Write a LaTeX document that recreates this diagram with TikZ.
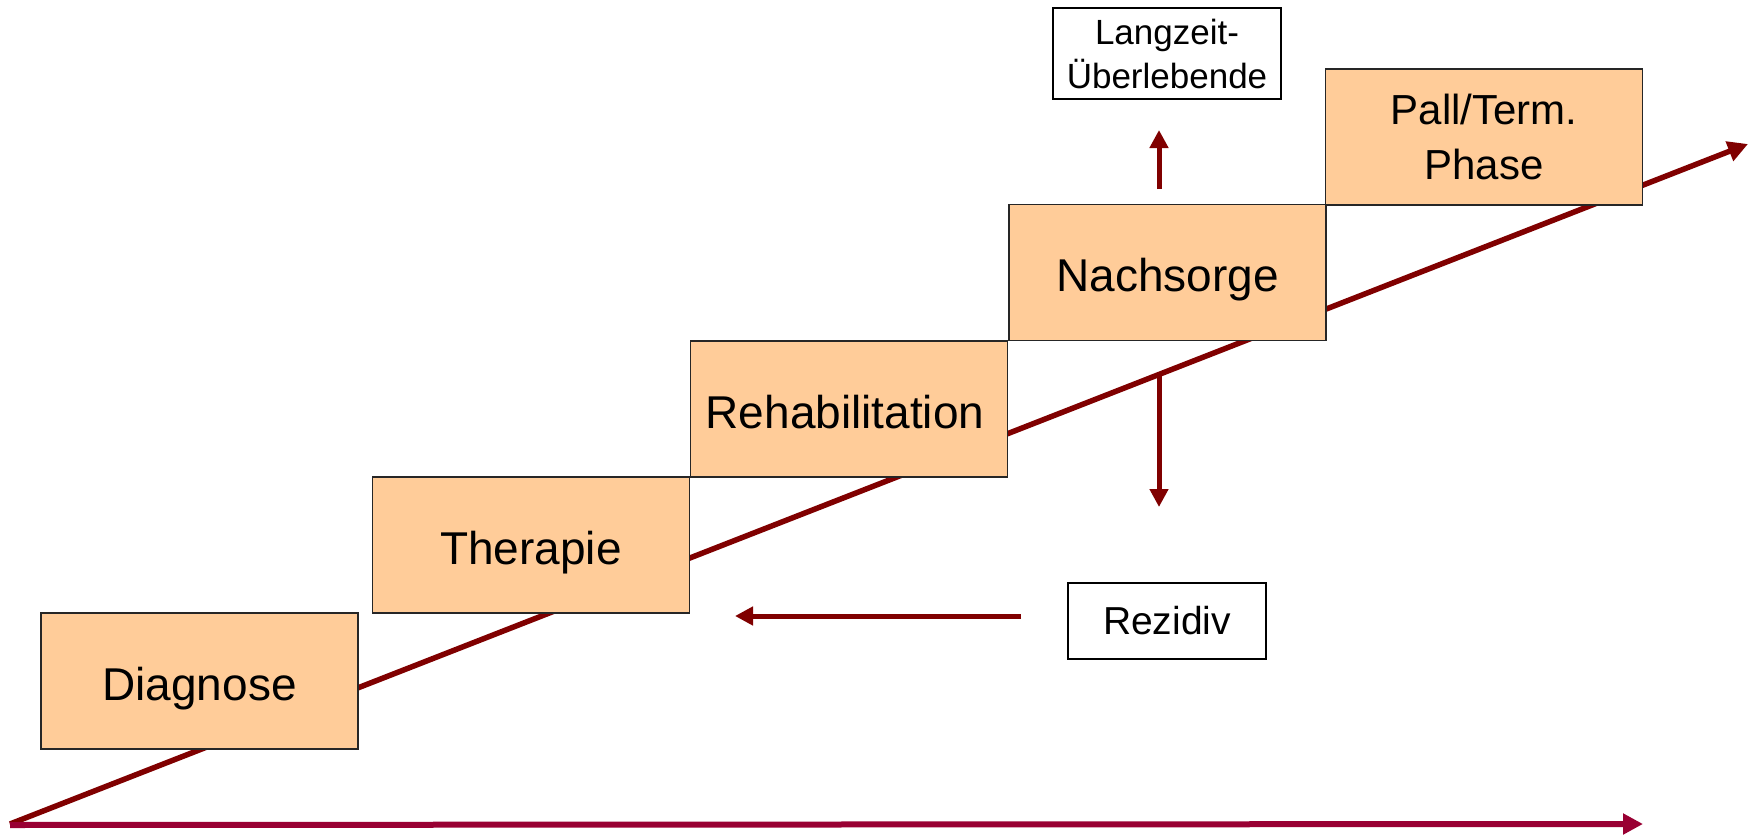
\documentclass[tikz,border=0pt]{standalone}
\usepackage{fontspec}
\setmainfont{Liberation Sans}
\usetikzlibrary{arrows.meta}
\definecolor{boxfill}{HTML}{FFCC99}
\definecolor{darkred}{HTML}{800000}
\definecolor{wine}{HTML}{990033}
\tikzset{
  phase/.style={draw=black!85, line width=1.5pt, fill=boxfill, minimum width=317pt, minimum height=136pt, inner sep=0pt, align=center, font=\fontsize{46}{52}\selectfont, text height=38pt, text depth=0pt},
  label box/.style={draw=black, line width=1.5pt, fill=white, inner sep=0pt, align=center},
  flow/.style={draw=darkred, line width=5.5pt, -{Triangle[length=20pt,width=20pt]}},
  axis/.style={draw=wine, line width=6pt, -{Triangle[length=20pt,width=20pt]}},
  branch/.style={draw=darkred, line width=5pt, -{Triangle[length=18pt,width=18pt]}}
}
\begin{document}
\begin{tikzpicture}[x=1pt,y=-1pt]
\useasboundingbox (0,0) rectangle (1754,835);
\coordinate (o) at (10,824);
\coordinate (diagend) at (1748,144);
\coordinate (axstart) at (10,825);
\coordinate (axend) at (1643,824);
\draw[flow] (o) -- (diagend);
\draw[axis] (axstart) -- (axend);

\node[phase] (diag) at (199.5,681) {Diagnose};
\node[phase] (ther) at (531,545) {Therapie};
\node[phase] (reha) at (849,409) {\hspace*{-8pt}Rehabilitation};
\node[phase] (nach) at (1167.5,272.5) {Nachsorge};
\node[phase, font=\fontsize{42}{55}\selectfont, text height=, text depth=] (pall) at (1484,137) {Pall/Term.\\Phase};

\node[label box, minimum width=228pt, minimum height=91pt, font=\fontsize{35}{44}\selectfont] (lang) at (1167,53.5) {Langzeit-\\Überlebende};
\node[label box, minimum width=198pt, minimum height=76pt, font=\fontsize{39}{44}\selectfont] (rez) at (1167,621) {Rezidiv};

\coordinate (upstart) at (1159,189);
\coordinate (upend) at (1159,130);
\coordinate (dnstart) at (1159,372);
\coordinate (dnend) at (1159,507);
\coordinate (lfstart) at (1021,616);
\coordinate (lfend) at (735,616);
\draw[branch] (upstart) -- (upend);
\draw[branch] (dnstart) -- (dnend);
\draw[branch] (lfstart) -- (lfend);
\end{tikzpicture}
\end{document}
